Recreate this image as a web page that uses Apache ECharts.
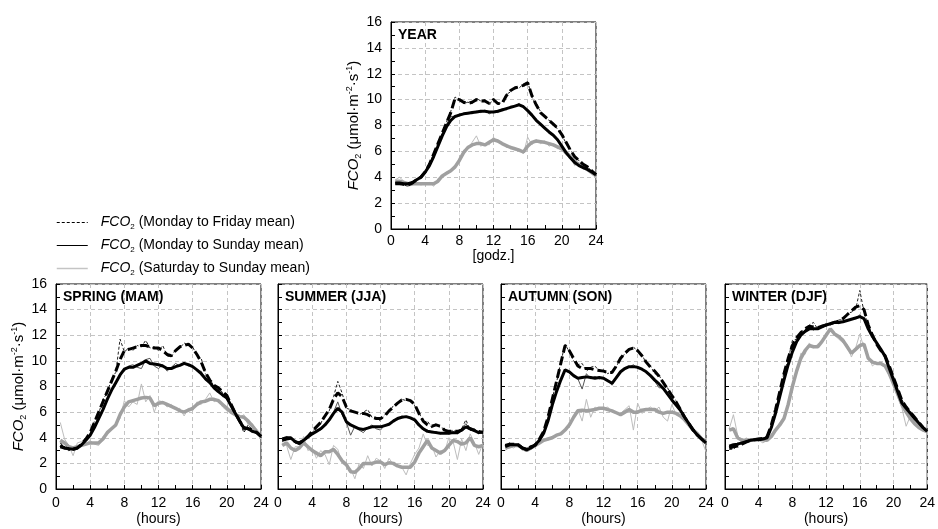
<!DOCTYPE html>
<html>
<head>
<meta charset="utf-8">
<title>FCO2 diurnal courses</title>
<script src="https://cdn.jsdelivr.net/npm/echarts@6/dist/echarts.min.js"></script>
<style>
  html, body { margin: 0; padding: 0; background: #fff; }
  #chart { width: 938px; height: 529px; }
</style>
</head>
<body>
<div id="chart"></div>
<script>
// half-hourly time stamps (hours)
const HOURS = [
  0.5, 1, 1.5, 2, 2.5, 3, 3.5, 4, 4.5, 5, 5.5, 6, 6.5, 7, 7.5, 8,
  8.5, 9, 9.5, 10, 10.5, 11, 11.5, 12, 12.5, 13, 13.5, 14, 14.5, 15, 15.5, 16,
  16.5, 17, 17.5, 18, 18.5, 19, 19.5, 20, 20.5, 21, 21.5, 22, 22.5, 23, 23.5, 24
];
const LEGEND_NAMES = ['Monday to Friday mean', 'Monday to Sunday mean', 'Saturday to Sunday mean'];

// ---- YEAR ----
const YEAR_MF = [3.5,3.5,3.45,3.4,3.55,3.8,4.0,4.4, 5.0,5.8,6.6,7.4,8.2,9.0,10.1,10.0, 9.8,9.7,9.8,10.0,9.9,9.9,9.7,10.0, 9.7,9.7,10.3,10.7,10.9,11.0,11.1,11.3, 10.3,9.6,9.0,8.7,8.4,8.1,7.8,7.3, 6.7,6.1,5.6,5.3,5.0,4.8,4.5,4.2];
const YEAR_MF_RAW = [3.6,3.5,3.4,3.3,3.6,3.8,4.1,4.4, 5.1,5.8,6.7,7.4,8.3,9.1,10.2,10.0, 9.7,9.8,9.7,10.1,9.9,10.0,9.6,10.1, 9.6,9.8,10.4,10.6,11.0,10.9,11.2,11.4, 10.2,9.6,9.1,8.6,8.4,8.2,7.7,7.3, 6.6,6.2,5.5,5.3,4.9,4.8,4.5,4.1];
const YEAR_MS = [3.55,3.55,3.5,3.5,3.6,3.8,4.0,4.4, 4.9,5.6,6.4,7.2,7.9,8.4,8.7,8.8, 8.9,8.95,9.0,9.05,9.1,9.1,9.05,9.05, 9.1,9.2,9.3,9.4,9.5,9.6,9.45,9.15, 8.8,8.4,8.1,7.8,7.5,7.25,6.9,6.4, 5.9,5.5,5.15,4.9,4.75,4.6,4.4,4.2];
const YEAR_MS_RAW = [3.6,3.5,3.4,3.5,3.5,3.8,4.1,4.3, 5.0,5.6,6.5,7.3,8.1,8.7,8.7,8.9, 8.9,9.0,8.9,9.1,9.0,9.2,8.9,9.1, 9.0,9.3,9.2,9.5,9.5,9.7,9.4,9.2, 8.7,8.5,8.0,7.9,7.4,7.3,6.8,6.5, 5.8,5.6,5.0,5.0,4.7,4.6,4.3,4.1];
const YEAR_SS = [3.7,3.7,3.6,3.5,3.5,3.5,3.5,3.5, 3.5,3.5,3.7,4.1,4.3,4.5,4.8,5.3, 5.9,6.3,6.5,6.6,6.6,6.5,6.7,6.9, 6.8,6.6,6.45,6.3,6.2,6.1,5.95,6.4, 6.7,6.8,6.75,6.7,6.6,6.5,6.35,6.2, 5.9,5.6,5.2,5.0,4.8,4.6,4.35,4.1];
const YEAR_SS_RAW = [3.8,4.0,3.7,3.3,3.4,3.6,3.4,3.5, 3.6,3.3,3.9,4.0,4.4,4.4,4.9,5.2, 6.1,6.2,6.7,7.2,6.4,6.6,6.5,7.1, 6.7,6.7,6.3,6.4,6.1,6.2,5.8,7.1, 6.5,6.9,6.6,6.8,6.4,6.6,6.2,6.3, 5.7,5.7,4.9,5.1,4.6,4.7,4.3,4.0];

// ---- SPRING ----
const SPR_MF = [3.3,3.2,3.15,3.1,3.2,3.5,3.9,4.4, 5.2,6.0,6.8,7.6,8.4,9.2,10.1,10.8, 10.9,11.0,11.1,11.2,11.2,11.1,11.0,11.0, 10.8,10.5,10.4,10.8,11.1,11.2,11.3,11.0, 10.5,9.9,9.1,8.5,8.1,7.9,7.6,7.3, 6.6,5.9,5.3,4.8,4.7,4.6,4.4,4.1];
const SPR_MF_RAW = [3.6,3.3,3.0,3.1,3.3,3.4,4.0,4.3, 5.3,5.9,7.0,7.5,8.6,9.1,11.7,10.7, 11.0,10.8,11.2,11.1,11.6,11.0,11.1,10.8, 11.2,10.4,10.3,10.9,11.0,11.4,11.2,11.1, 10.4,10.2,9.0,8.6,8.0,8.0,7.5,7.4, 6.5,6.0,5.2,4.4,5.0,4.6,4.5,4.0];
const SPR_MS = [3.4,3.2,3.15,3.1,3.2,3.45,3.8,4.2, 4.8,5.5,6.2,7.0,7.7,8.3,8.9,9.35, 9.5,9.5,9.65,9.8,10.0,9.8,9.75,9.7, 9.6,9.4,9.4,9.55,9.65,9.8,9.7,9.55, 9.3,9.0,8.6,8.3,7.9,7.6,7.35,7.1, 6.5,5.9,5.3,4.75,4.7,4.5,4.4,4.1];
const SPR_MS_RAW = [3.6,3.2,3.0,3.2,3.3,3.4,3.9,4.1, 4.9,5.4,6.3,6.9,7.8,8.2,9.0,9.2, 9.6,9.7,9.5,9.4,10.1,10.2,9.6,9.4, 9.7,9.2,9.5,9.8,9.6,9.9,9.6,9.6, 9.2,9.2,8.5,8.4,7.8,7.7,7.2,7.2, 6.4,6.0,5.2,4.6,4.8,4.4,4.5,4.0];
const SPR_SS = [3.8,3.6,3.3,3.2,3.3,3.4,3.5,3.6, 3.6,3.6,3.9,4.4,4.7,5.0,5.8,6.4, 6.8,6.9,7.0,7.1,7.15,7.1,6.5,6.7, 6.75,6.6,6.45,6.3,6.1,6.0,6.15,6.3, 6.6,6.8,6.85,7.0,7.0,6.9,6.6,6.3, 6.0,5.8,5.65,5.6,5.3,4.9,4.5,4.1];
const SPR_SS_RAW = [5.2,3.9,3.4,2.6,3.6,3.7,3.5,3.8, 3.5,3.4,4.1,4.2,4.8,5.1,5.5,6.9, 6.4,6.8,6.6,8.2,6.8,7.3,6.0,6.9, 6.8,6.4,6.6,6.2,6.3,5.7,6.3,6.1, 6.8,6.6,7.0,7.5,6.8,7.0,6.4,6.1, 6.2,6.0,5.6,5.8,5.0,5.1,4.4,4.1];

// ---- SUMMER ----
const SUM_MF = [3.8,3.9,3.95,3.7,3.6,3.8,4.1,4.5, 4.85,5.2,5.7,6.2,7.0,7.5,7.2,6.4, 6.1,6.0,5.9,5.9,5.8,5.6,5.5,5.5, 5.7,6.1,6.4,6.7,6.95,7.0,6.9,6.6, 5.9,5.3,5.0,4.9,5.0,4.9,4.6,4.5, 4.5,4.5,4.6,4.9,4.7,4.6,4.5,4.4];
const SUM_MF_RAW = [3.7,4.0,3.9,3.6,3.7,3.7,4.2,4.4, 4.9,5.1,5.8,6.1,7.2,8.4,7.5,6.3, 6.2,6.0,5.8,6.0,6.2,5.6,5.6,5.3, 5.8,6.0,6.5,6.6,7.0,6.9,7.0,6.5, 6.0,5.2,5.3,4.8,5.1,4.8,4.7,4.4, 4.6,4.4,4.7,5.4,4.6,4.7,4.4,4.4];
const SUM_MS = [3.9,4.0,4.0,3.7,3.55,3.8,4.05,4.3, 4.5,4.7,5.0,5.4,5.9,6.3,6.0,5.25, 5.0,4.85,4.7,4.65,4.75,4.85,4.85,4.85, 4.95,5.05,5.3,5.5,5.6,5.65,5.55,5.4, 5.0,4.7,4.5,4.45,4.4,4.35,4.35,4.35, 4.4,4.4,4.6,4.85,4.7,4.55,4.4,4.45];
const SUM_MS_RAW = [3.8,4.1,3.9,3.6,3.6,3.7,4.1,4.2, 4.6,4.6,5.1,5.3,6.0,6.8,5.8,5.2, 4.2,4.9,4.6,4.4,4.8,5.0,4.7,4.6, 5.0,5.0,5.4,5.4,5.7,5.6,5.6,5.3, 5.1,4.6,4.6,4.4,4.5,4.3,4.4,4.3, 4.5,4.3,4.7,5.1,4.6,4.6,4.3,4.5];
const SUM_SS = [3.4,3.6,3.2,3.0,3.2,3.6,3.3,3.0, 2.8,2.6,2.9,2.9,3.1,2.7,2.2,1.9, 1.35,1.3,1.6,2.0,2.0,2.0,2.1,2.1, 1.9,2.05,2.0,1.8,1.7,1.7,1.7,2.1, 2.8,3.3,3.8,3.2,3.0,2.8,3.0,3.4, 3.8,3.7,3.5,3.6,4.0,3.4,3.3,3.4];
const SUM_SS_RAW = [3.6,3.4,2.3,3.3,3.3,4.1,3.0,3.2, 2.4,3.0,2.7,1.9,3.4,3.1,2.0,1.8, 1.6,0.8,2.0,1.6,2.6,1.8,2.4,2.2, 1.6,2.4,1.9,1.9,1.7,1.1,2.0,2.7, 3.2,4.3,3.4,3.4,2.5,3.0,2.9,4.0, 3.7,2.3,3.9,3.0,4.3,3.6,2.7,3.6];

// ---- AUTUMN ----
const AUT_MF = [3.4,3.5,3.5,3.45,3.2,3.1,3.3,3.4, 3.9,4.5,5.6,7.0,8.4,9.8,11.2,10.8, 10.2,9.6,9.4,9.4,9.4,9.3,9.25,9.2, 9.1,9.1,9.6,10.2,10.6,10.9,11.0,10.8, 10.4,9.9,9.5,9.2,8.8,8.3,7.8,7.3, 6.8,6.2,5.6,5.1,4.6,4.2,3.9,3.6];
const AUT_MF_RAW = [3.3,3.6,3.4,3.5,3.1,3.2,3.2,3.5, 3.8,4.6,5.5,7.1,8.3,9.9,11.3,10.7, 10.0,9.7,9.8,9.2,9.5,9.6,9.2,9.3, 9.0,9.2,9.5,10.3,10.5,10.8,11.1,10.7, 10.5,9.8,9.6,9.0,8.9,8.2,7.9,7.2, 6.9,6.1,5.7,5.0,4.7,4.1,4.0,3.5];
const AUT_MS = [3.3,3.45,3.45,3.45,3.2,3.05,3.2,3.45, 3.8,4.35,5.3,6.55,7.6,8.5,9.3,9.15, 8.85,8.65,8.7,8.75,8.7,8.65,8.7,8.65, 8.45,8.25,8.7,9.15,9.4,9.55,9.55,9.5, 9.35,9.15,8.85,8.5,8.2,7.85,7.4,6.95, 6.55,6.15,5.6,5.1,4.6,4.2,3.9,3.6];
const AUT_MS_RAW = [3.2,3.5,3.4,3.5,3.1,3.1,3.1,3.5, 3.7,4.4,5.2,6.6,7.5,8.6,9.2,9.1, 8.9,8.6,7.8,9.0,8.6,8.8,8.6,8.7, 8.5,8.1,8.8,9.1,9.5,9.5,9.7,9.4, 9.4,9.1,8.9,8.4,7.9,7.9,7.3,7.0, 6.5,6.2,5.5,5.2,4.5,4.3,3.8,3.6];
const AUT_SS = [3.2,3.3,3.4,3.4,3.2,3.0,3.2,3.4, 3.6,3.8,3.9,4.0,4.2,4.3,4.6,5.0, 5.6,6.1,6.15,6.1,6.15,6.2,6.3,6.3, 6.2,6.1,5.95,5.8,6.0,6.2,6.0,6.0, 6.15,6.2,6.2,6.2,6.0,5.9,6.0,6.0, 5.9,5.7,5.4,5.0,4.6,4.3,3.9,3.6];
const AUT_SS_RAW = [3.0,3.3,3.2,3.5,3.0,3.1,3.4,3.3, 3.6,3.9,3.8,4.1,4.2,4.4,4.5,5.1, 5.7,6.2,5.3,7.0,5.6,6.4,6.2,6.3, 6.4,6.0,5.9,5.9,6.2,6.5,4.6,6.7, 5.9,6.2,6.4,6.1,6.4,5.6,5.3,6.6, 5.8,5.8,5.3,5.1,4.5,4.4,3.8,2.9];

// ---- WINTER ----
const WIN_MF = [3.2,3.3,3.35,3.5,3.65,3.8,3.85,3.9, 3.95,4.1,5.0,6.2,7.6,9.0,10.2,11.2, 11.8,12.2,12.5,12.7,12.65,12.6,12.7,12.8, 12.9,13.0,13.1,13.3,13.6,13.9,14.2,14.3, 14.0,12.8,12.0,11.3,10.8,10.4,9.6,8.7, 7.8,6.9,6.4,6.0,5.6,5.2,4.8,4.5];
const WIN_MF_RAW = [3.1,3.1,3.4,3.6,3.6,3.9,3.8,4.0, 3.9,4.2,4.9,6.3,7.5,9.1,10.1,11.6, 11.7,12.3,12.4,12.8,13.0,12.5,12.8,12.7, 13.0,12.9,13.2,13.2,13.7,13.8,14.0,15.5, 13.8,12.9,11.9,11.4,10.7,10.5,9.5,8.8, 7.7,7.0,6.3,6.1,5.5,5.3,4.7,4.5];
const WIN_MS = [3.35,3.45,3.5,3.6,3.7,3.8,3.85,3.85, 3.9,4.0,4.8,5.9,7.2,8.5,9.7,10.7, 11.5,12.0,12.3,12.5,12.5,12.5,12.65,12.8, 12.9,13.0,13.0,13.05,13.15,13.25,13.35,13.45, 13.3,12.5,11.9,11.4,10.9,10.35,9.4,8.5, 7.6,6.7,6.3,5.9,5.5,5.15,4.8,4.5];
const WIN_MS_RAW = [3.3,3.4,3.6,3.5,3.8,3.7,3.9,3.8, 3.95,4.0,4.7,6.0,7.1,8.6,9.6,10.8, 11.4,12.1,12.2,12.6,12.4,12.6,12.6,12.9, 12.8,13.1,12.9,13.1,13.1,13.3,13.3,13.6, 13.2,12.6,11.8,11.5,10.8,10.4,9.3,8.6, 7.5,6.8,6.2,6.0,5.4,5.2,4.7,4.5];
const WIN_SS = [4.6,4.7,4.0,3.8,3.8,3.8,3.85,3.9, 3.85,3.8,4.1,4.6,5.0,5.5,6.6,8.0, 9.2,10.2,10.8,11.2,11.1,11.1,11.5,12.0, 12.5,12.1,11.9,11.6,11.1,10.6,10.9,11.2, 11.3,10.2,9.9,9.8,9.8,9.6,9.0,8.2, 7.4,6.6,6.0,5.5,5.1,4.8,4.6,4.5];
const WIN_SS_RAW = [4.7,5.8,4.2,3.6,4.0,3.7,3.9,3.8, 3.6,3.8,4.3,4.5,5.2,5.6,6.8,8.2, 9.0,10.6,10.5,11.4,11.0,11.3,11.4,12.2, 12.4,12.0,11.7,11.4,11.3,10.3,11.0,12.1, 11.0,10.4,9.6,9.9,9.7,9.5,8.8,8.3, 7.2,6.3,4.9,5.7,5.0,4.9,4.5,4.4];

const FONT = '"Liberation Sans", Arial, sans-serif';

// panel layout (pixel boxes of each plot area)
const panels = [
  { title: 'YEAR', xName: '[godz.]', yName: true, yGap: 28, xMargin: 5, xGap: 19, box: { left: 391, top: 22, width: 205, height: 207 },
    mf: YEAR_MF, mfRaw: YEAR_MF_RAW, ms: YEAR_MS, msRaw: YEAR_MS_RAW, ss: YEAR_SS, ssRaw: YEAR_SS_RAW },
  { title: 'SPRING (MAM)', xName: '(hours)', yName: true, yGap: 26, box: { left: 56, top: 284, width: 205, height: 205 },
    mf: SPR_MF, mfRaw: SPR_MF_RAW, ms: SPR_MS, msRaw: SPR_MS_RAW, ss: SPR_SS, ssRaw: SPR_SS_RAW },
  { title: 'SUMMER (JJA)', xName: '(hours)', yName: false, box: { left: 278, top: 284, width: 205, height: 205 },
    mf: SUM_MF, mfRaw: SUM_MF_RAW, ms: SUM_MS, msRaw: SUM_MS_RAW, ss: SUM_SS, ssRaw: SUM_SS_RAW },
  { title: 'AUTUMN (SON)', xName: '(hours)', yName: false, box: { left: 501, top: 284, width: 205, height: 205 },
    mf: AUT_MF, mfRaw: AUT_MF_RAW, ms: AUT_MS, msRaw: AUT_MS_RAW, ss: AUT_SS, ssRaw: AUT_SS_RAW },
  { title: 'WINTER (DJF)', xName: '(hours)', yName: false, box: { left: 725, top: 284, width: 205, height: 205 },
    mf: WIN_MF, mfRaw: WIN_MF_RAW, ms: WIN_MS, msRaw: WIN_MS_RAW, ss: WIN_SS, ssRaw: WIN_SS_RAW }
];

function subSupRich(size, small, lh) {
  return {
    i: { fontStyle: 'italic', fontSize: size, fontFamily: FONT, color: '#000', lineHeight: lh },
    n: { fontSize: size, fontFamily: FONT, color: '#000', lineHeight: lh },
    sub: { fontSize: small, fontFamily: FONT, color: '#000', verticalAlign: 'bottom' },
    sup: { fontSize: small, fontFamily: FONT, color: '#000', verticalAlign: 'top' }
  };
}

const toPairs = vals => vals.map((v, k) => [HOURS[k], v]);

function line(name, vals, gi, color, width, type) {
  return {
    name: name, type: 'line', xAxisIndex: gi, yAxisIndex: gi,
    data: toPairs(vals), symbol: 'none', silent: true, color: color,
    lineStyle: { color: color, width: width, type: type || 'solid' }
  };
}

const grids = [], xAxes = [], yAxes = [], titles = [], series = [];

panels.forEach((p, gi) => {
  grids.push({ left: p.box.left, top: p.box.top, width: p.box.width, height: p.box.height,
    show: true, borderColor: '#000', borderWidth: 1, backgroundColor: '#fff' });

  xAxes.push({
    gridIndex: gi, type: 'value', min: 0, max: 24, interval: 4,
    axisLine: { lineStyle: { color: '#000', width: 1 } },
    axisTick: { inside: true, length: 4, lineStyle: { color: '#000' } },
    minorTick: { show: true, splitNumber: 2, length: 4, lineStyle: { color: '#000' } },
    axisLabel: { color: '#000', fontSize: 14, fontFamily: FONT, margin: p.xMargin || 7 },
    splitLine: { show: true, lineStyle: { color: '#c4c4c4', type: [4, 3] } },
    name: p.xName, nameLocation: 'middle', nameGap: p.xGap || 23,
    nameTextStyle: { color: '#000', fontSize: 14, fontFamily: FONT }
  });

  yAxes.push({
    gridIndex: gi, type: 'value', min: 0, max: 16, interval: 2,
    axisLine: { lineStyle: { color: '#000', width: 1 } },
    axisTick: { inside: true, length: 4, lineStyle: { color: '#000' } },
    minorTick: { show: true, splitNumber: 2, length: 4, lineStyle: { color: '#000' } },
    axisLabel: { show: p.yName, color: '#000', fontSize: 14, fontFamily: FONT, margin: 9 },
    splitLine: { show: true, lineStyle: { color: '#c4c4c4', type: [4, 3] } },
    name: p.yName ? '{i|FCO}{sub|2}{n| (μmol·m}{sup|-2}{n|·s}{sup|-1}{n|)}' : '',
    nameLocation: 'middle', nameGap: p.yGap || 30, nameRotate: 90,
    nameTextStyle: { color: '#000', fontSize: 15, fontFamily: FONT, rich: subSupRich(15, 9, 18) }
  });

  titles.push({
    text: p.title, left: p.box.left + 7, top: p.box.top + 6, padding: 0,
    textStyle: { color: '#000', fontSize: 14, fontWeight: 'bold', fontFamily: FONT }
  });

  // gray first, black on top
  series.push(line(LEGEND_NAMES[2], p.ssRaw, gi, '#bdbdbd', 1));
  series.push(line(LEGEND_NAMES[1], p.msRaw, gi, '#555', 1));
  series.push(line(LEGEND_NAMES[0], p.mfRaw, gi, '#222', 1, [3, 2]));
  series.push(line(LEGEND_NAMES[2], p.ss, gi, '#a0a0a0', 3.5));
  series.push(line(LEGEND_NAMES[1], p.ms, gi, '#000', 3));
  series.push(line(LEGEND_NAMES[0], p.mf, gi, '#000', 3, [9, 4]));
});

const chart = echarts.init(document.getElementById('chart'), null, { renderer: 'canvas' });
chart.setOption({
  backgroundColor: '#fff',
  animation: false,
  title: titles,
  grid: grids,
  xAxis: xAxes,
  yAxis: yAxes,
  legend: {
    orient: 'vertical', left: 56, top: 215.5, padding: 0, itemWidth: 31, itemHeight: 11, itemGap: 8,
    selectedMode: false,
    itemStyle: { opacity: 0 },
    data: [
      { name: LEGEND_NAMES[0], lineStyle: { color: '#000', width: 1, type: [3, 2] } },
      { name: LEGEND_NAMES[1], lineStyle: { color: '#000', width: 1, type: 'solid' } },
      { name: LEGEND_NAMES[2], lineStyle: { color: '#c4c4c4', width: 1.5, type: 'solid' } }
    ],
    formatter: name => '{i|FCO}{sub|2}{n| (' + name + ')}',
    textStyle: { color: '#000', fontSize: 14, fontFamily: FONT, padding: [0, 0, 0, 8], rich: subSupRich(14, 8, 16) }
  },
  series: series
});
</script>
</body>
</html>
